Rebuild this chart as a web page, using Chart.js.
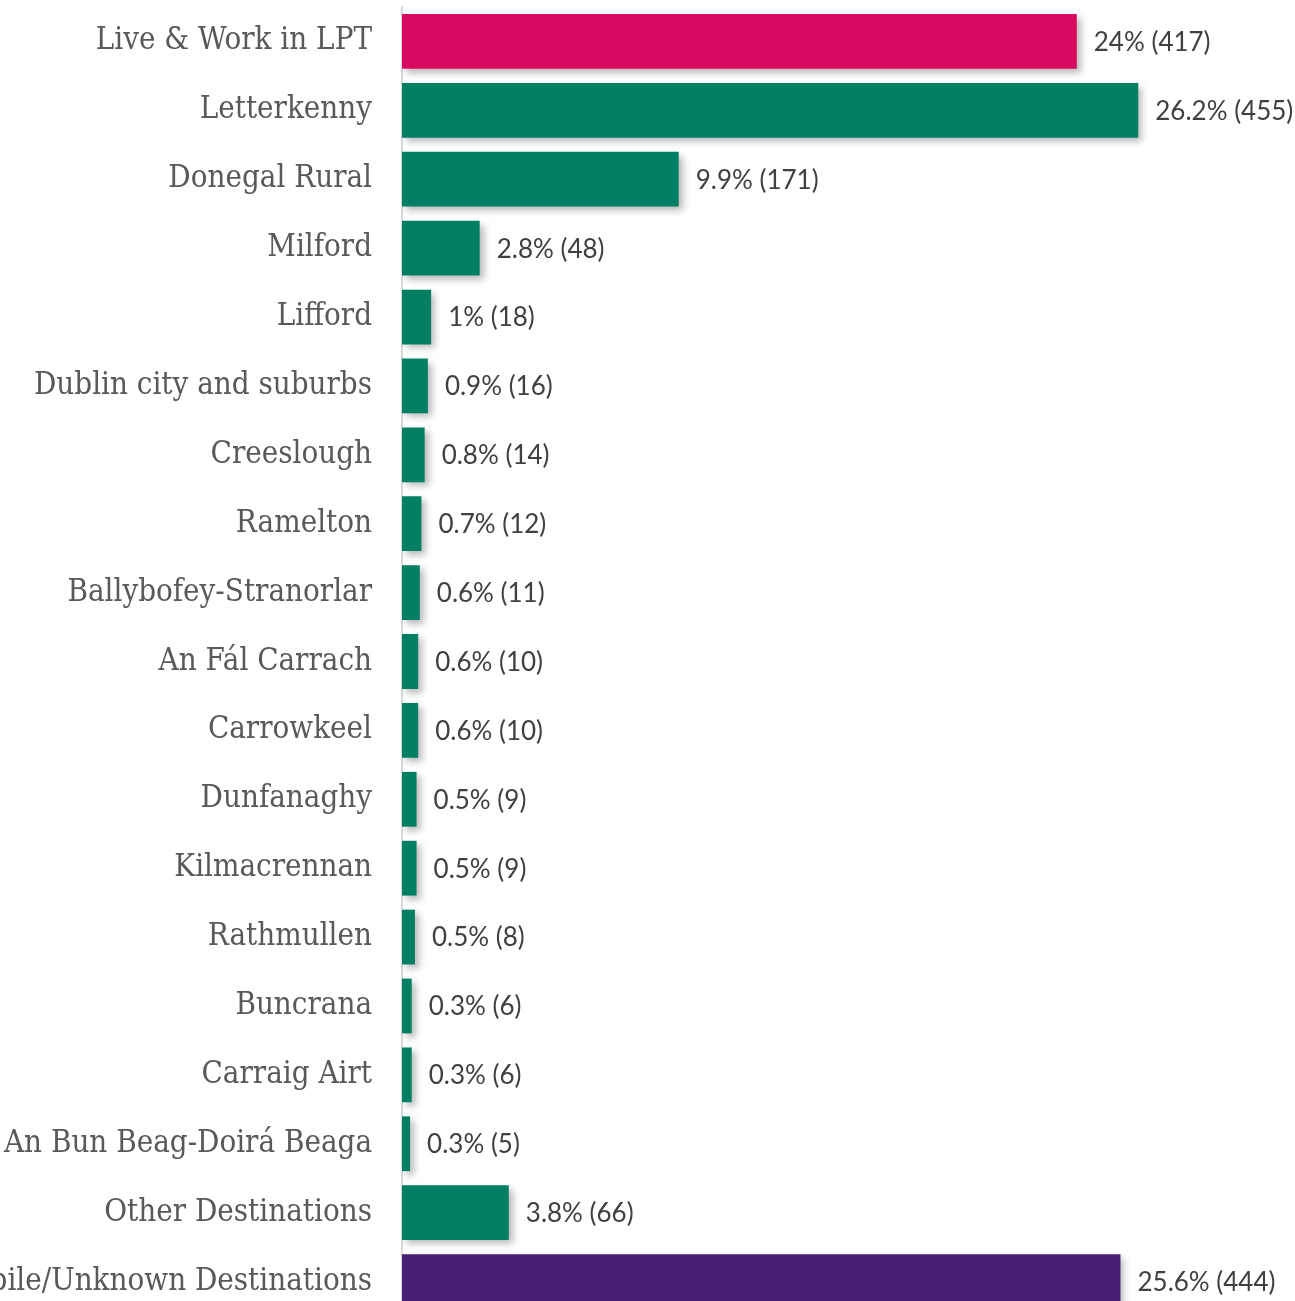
<!DOCTYPE html>
<html>
<head>
<meta charset="utf-8">
<script src="https://cdn.jsdelivr.net/npm/chart.js@4/dist/chart.umd.min.js"></script>
<style>
  html, body { margin: 0; padding: 0; background: #fff; overflow: hidden; }
  #wrap { width: 1295px; height: 1316px; }
</style>
</head>
<body>
<div id="wrap"><canvas id="chart"></canvas></div>
<script>
/* ===== DATA ===== */
const categories = [
  "Live & Work in LPT", "Letterkenny", "Donegal Rural", "Milford", "Lifford",
  "Dublin city and suburbs", "Creeslough", "Ramelton", "Ballybofey-Stranorlar",
  "An Fál Carrach", "Carrowkeel", "Dunfanaghy", "Kilmacrennan", "Rathmullen",
  "Buncrana", "Carraig Airt", "An Bun Beag-Doirá Beaga", "Other Destinations",
  "Mobile/Unknown Destinations"
];
const counts = [417, 455, 171, 48, 18, 16, 14, 12, 11, 10, 10, 9, 9, 8, 6, 6, 5, 66, 444];
const percents = [24, 26.2, 9.9, 2.8, 1, 0.9, 0.8, 0.7, 0.6, 0.6, 0.6, 0.5, 0.5, 0.5, 0.3, 0.3, 0.3, 3.8, 25.6];
const barColors = categories.map((c, i) =>
  i === 0 ? "#d90a5f" : i === categories.length - 1 ? "#461e73" : "#007f63");

/* ===== PLUGINS ===== */
const barShadow = {
  id: "barShadow",
  beforeDatasetsDraw(chart) {
    const ctx = chart.ctx;
    ctx.save();
    ctx.shadowColor = "rgba(0,0,0,0.28)";
    ctx.shadowBlur = 7;
    ctx.shadowOffsetX = 4;
    ctx.shadowOffsetY = 4;
  },
  afterDatasetsDraw(chart) {
    chart.ctx.restore();
  }
};

const valueLabels = {
  id: "valueLabels",
  afterDraw(chart) {
    const ctx = chart.ctx;
    const meta = chart.getDatasetMeta(0);
    ctx.save();
    ctx.font = "26px Lato";
    ctx.fillStyle = "#404040";
    ctx.textAlign = "left";
    ctx.textBaseline = "middle";
    meta.data.forEach((bar, i) => {
      ctx.fillText(percents[i] + "% (" + counts[i] + ")", bar.x + 17, bar.y + 1);
    });
    ctx.restore();
  }
};

/* ===== CHART ===== */
new Chart(document.getElementById("chart"), {
  type: "bar",
  data: {
    labels: categories,
    datasets: [{
      data: counts,
      backgroundColor: barColors,
      categoryPercentage: 1,
      barPercentage: 0.795
    }]
  },
  options: {
    indexAxis: "y",
    responsive: true,
    maintainAspectRatio: false,
    animation: false,
    layout: { padding: { top: 7, right: 3, bottom: 0, left: 0 } },
    plugins: {
      legend: { display: false },
      tooltip: { enabled: false }
    },
    scales: {
      x: {
        display: false,
        min: 0,
        max: 550
      },
      y: {
        afterFit(scale) {
          scale.width = 402;
          scale.paddingTop = 0;
          scale.paddingBottom = 0;
        },
        grid: { display: false, drawTicks: false },
        border: { display: true, color: "#d9d9d9", width: 2 },
        ticks: {
          padding: 30,
          color: "#595959",
          font: { family: "'DejaVu Serif Condensed', 'Liberation Serif'", size: 31 }
        }
      }
    }
  },
  plugins: [barShadow, valueLabels]
});
</script>
</body>
</html>
